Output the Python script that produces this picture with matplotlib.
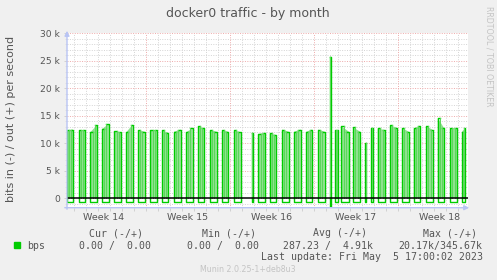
import numpy as np
import matplotlib
matplotlib.use("Agg")
import matplotlib.pyplot as plt
from matplotlib.patches import Rectangle

# daily traffic bursts, time in days since Sun Apr 2 00:00
starts = [0.417, 1.392, 2.358, 3.333, 4.358, 5.358, 6.333, 7.358, 8.333, 9.333,
          10.333, 11.333, 12.333, 13.333, 14.333, 15.808, 16.358, 17.308, 18.333, 19.333,
          20.358, 21.333, 22.292, 22.725, 23.275, 24.25, 25.267, 25.75, 26.308, 27.333,
          28.333, 29.308, 30.333, 31.308, 32.333, 33.333]
ends = [0.917, 1.892, 2.917, 3.892, 4.917, 5.892, 6.892, 7.917, 8.858, 9.892,
        10.892, 11.858, 12.892, 13.858, 14.892, 15.892, 16.917, 17.858, 18.892, 19.892,
        20.858, 21.892, 22.375, 23.0, 23.917, 24.858, 25.35, 25.892, 26.917, 27.917,
        28.892, 29.858, 30.892, 31.858, 32.917, 33.583]
out_first = [12.4, 12.5, 12.0, 12.6, 12.2, 12.0, 12.4, 12.5, 12.4, 12.1,
             12.0, 13.1, 12.4, 12.4, 12.4, 11.9, 11.7, 11.8, 12.5, 12.1,
             12.1, 12.5, 25.6, 12.5, 13.1, 12.9, 10.0, 12.7, 12.7, 13.3,
             12.8, 12.7, 13.2, 14.6, 12.7, 12.1]
out_last = [12.5, 12.5, 13.3, 13.5, 12.0, 13.4, 12.1, 12.5, 11.9, 12.5,
            12.7, 12.7, 12.1, 12.1, 12.0, 11.9, 11.9, 11.5, 12.1, 12.5,
            12.5, 12.1, 25.6, 12.5, 12.1, 12.1, 10.0, 12.7, 12.4, 12.8,
            12.1, 13.2, 12.4, 12.7, 12.8, 12.8]
in_vals = [-0.6] * 22 + [-1.6] + [-0.6] * 13

week_centers = [3.5, 10.5, 17.5, 24.5, 31.5]
week_labels = ["Week 14", "Week 15", "Week 16", "Week 17", "Week 18"]
y_ticks = [0, 5, 10, 15, 20, 25, 30]
y_labels = ["0", "5 k", "10 k", "15 k", "20 k", "25 k", "30 k"]

W, H = 497, 280
GREEN = "#00cc00"
TXT = "#555555"


def fx(x):
    return x / W


def fy(y):
    return 1 - y / H


fig = plt.figure(figsize=(W / 100, H / 100), dpi=100, facecolor="#f0f0f0")
ax = fig.add_axes([fx(67), fy(207.7), (468 - 67) / W, (207.7 - 33.3) / H])
ax.set_facecolor("white")
ax.set_xlim(0.417, 33.83)
ax.set_ylim(-1.71, 30)
for s in ax.spines.values():
    s.set_visible(False)

# grid
for v in np.arange(-1, 30):
    if v % 5 == 0:
        continue
    ax.axhline(v, color="#d4d4d4", lw=0.7, ls=(0, (1, 1.5)), zorder=1)
for d in range(1, 34):
    if d % 7 == 0:
        continue
    ax.axvline(d, color="#d4d4d4", lw=0.7, ls=(0, (1, 1.5)), zorder=1)
for v in y_ticks[1:]:
    ax.axhline(v, color="#eeaaaa", lw=0.7, ls=(0, (1, 1.5)), zorder=1)
for d in [7, 14, 21, 28]:
    ax.axvline(d, color="#eeaaaa", lw=0.7, ls=(0, (1, 1.5)), zorder=1)

# bursts
for s, e, h1, h2, iv in zip(starts, ends, out_first, out_last, in_vals):
    w = e - s
    ax.fill([s, s, e, e], [0, h1, h2, 0], color="#8ee28e", lw=0, zorder=2)
    ax.plot([s, s, s + w / 3], [0, h1, h1], color=GREEN, lw=1.0, zorder=3)
    ax.plot([e - w / 3, e, e], [h2, h2, 0], color=GREEN, lw=1.0, zorder=3)
    ax.plot([s + w / 3, s + w / 3], [0, h1], color="#5ad85a", lw=0.7, zorder=3)
    ax.plot([e - w / 3, e - w / 3], [0, h2], color="#5ad85a", lw=0.7, zorder=3)
    ax.plot([s, s, e, e], [0, iv, iv, 0], color=GREEN, lw=1.0, zorder=3)

ax.axhline(0, color="black", lw=1.1, zorder=4)

ax.set_xticks(week_centers)
ax.set_xticklabels(week_labels, fontsize=6.8, color=TXT)
ax.tick_params(axis="x", length=0, pad=4)
ax.set_xticks(np.arange(1, 34), minor=True)
ax.tick_params(axis="x", which="minor", length=2.5, color="#cccccc", width=0.6)
ax.set_yticks(y_ticks)
ax.set_yticklabels(y_labels, fontsize=6.6, color=TXT)
ax.tick_params(axis="y", length=2, color="#cccccc", width=0.6, pad=3)
ax.set_yticks(np.arange(-1, 30), minor=True)
ax.tick_params(axis="y", which="minor", length=1.5, color="#dddddd", width=0.6)

# axes with arrows
AX = "#b8c4f4"
ax.annotate("", xy=(472 / W, fy(207.7)), xytext=(62 / W, fy(207.7)),
            xycoords="figure fraction", zorder=6,
            arrowprops=dict(arrowstyle="-|>", color=AX, lw=1, mutation_scale=7))
ax.annotate("", xy=(fx(67), fy(28)), xytext=(fx(67), fy(212)),
            xycoords="figure fraction", zorder=6,
            arrowprops=dict(arrowstyle="-|>", color=AX, lw=1, mutation_scale=7))

fig.text(fx(248), fy(13.5), "docker0 traffic - by month", fontsize=9, color=TXT,
         ha="center", va="center")
fig.text(fx(11), fy(119), "bits in (-) / out (+) per second", fontsize=8,
         color=TXT, ha="center", va="center", rotation=90)
fig.text(fx(488.5), fy(56.5), "RRDTOOL / TOBI OETIKER", fontsize=5.7,
         color="#c4c4c4", ha="center", va="center", rotation=270)

mono = dict(family="DejaVu Sans Mono", fontsize=7.1, color=TXT, va="center")
for x, t in [(89, "Cur (-/+)"), (202, "Min (-/+)"), (313, "Avg (-/+)"), (423, "Max (-/+)")]:
    fig.text(fx(x), fy(233), t, **mono)
fig.patches.append(Rectangle((fx(14), fy(248)), 6 / W, 6 / H, color=GREEN,
                             transform=fig.transFigure, figure=fig))
fig.text(fx(27), fy(246), "bps", **mono)
for x, t in [(79, "0.00 /  0.00"), (187, "0.00 /  0.00"),
             (283, "287.23 /  4.91k"), (398, "20.17k/345.67k")]:
    fig.text(fx(x), fy(246), t, **mono)
fig.text(fx(483), fy(257.5), "Last update: Fri May  5 17:00:02 2023", ha="right", **mono)
fig.text(fx(200), fy(269), "Munin 2.0.25-1+deb8u3", fontsize=5.7, color="#c4c4c4",
         va="center")

fig.savefig("out.png", dpi=100, facecolor=fig.get_facecolor())
